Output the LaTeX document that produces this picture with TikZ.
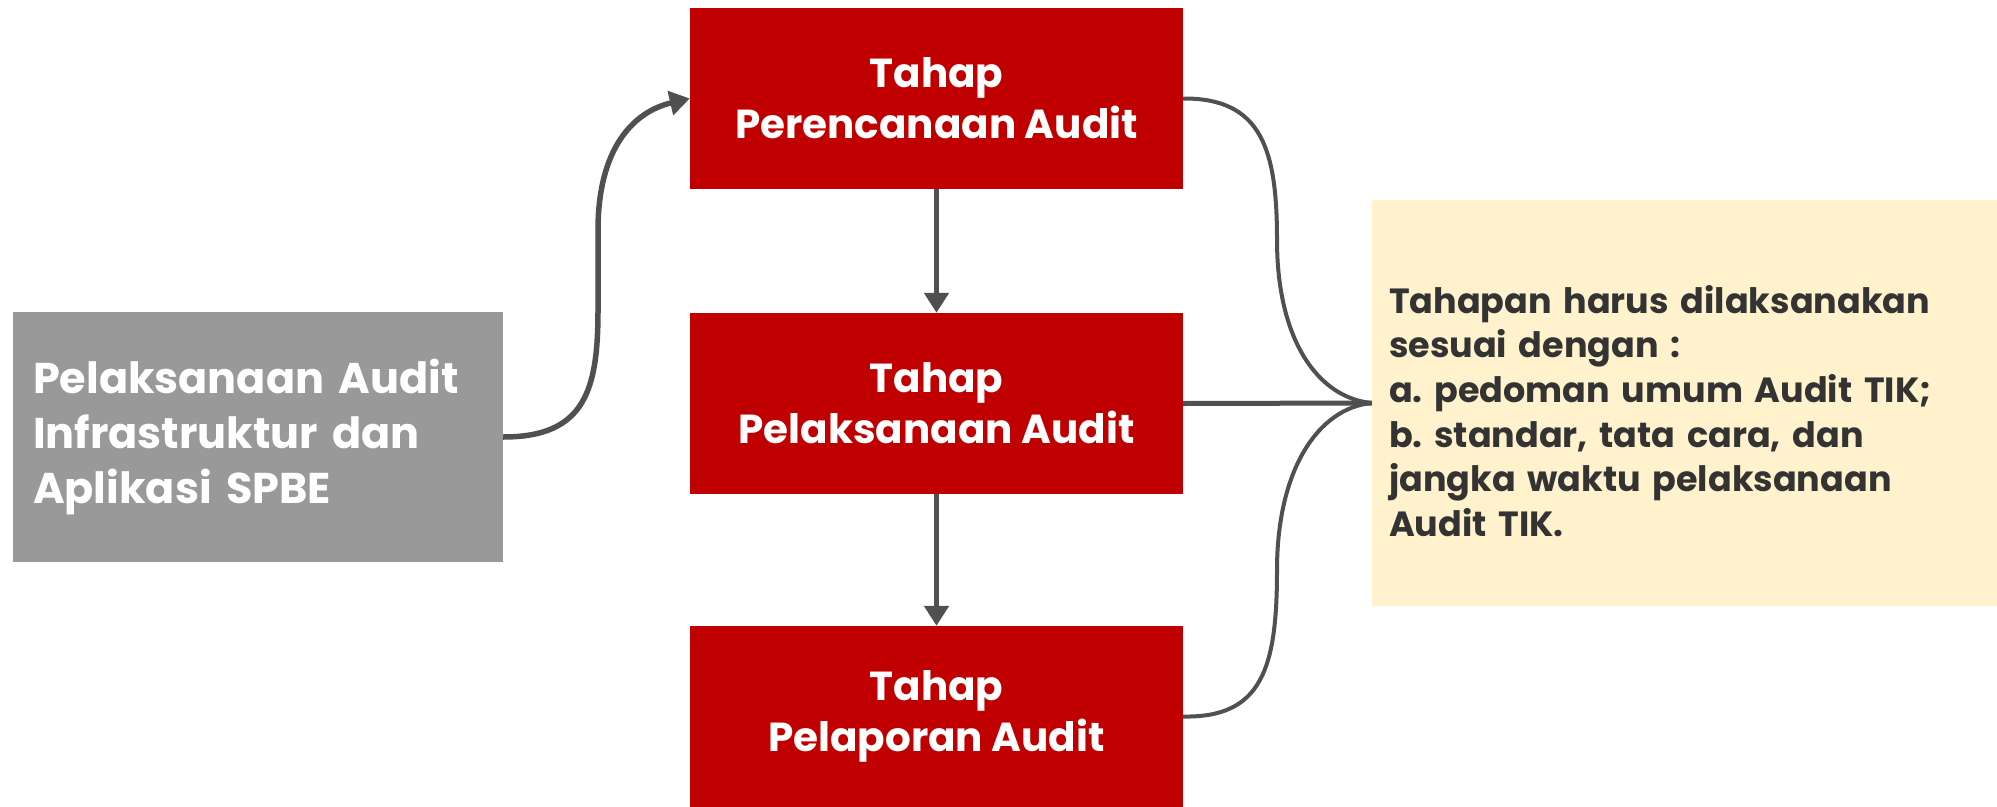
\documentclass[tikz,border=0pt]{standalone}
\usepackage{fontspec}
\setmainfont{Poppins}
\usetikzlibrary{arrows.meta}
\definecolor{boxred}{HTML}{C00000}
\definecolor{boxgray}{HTML}{999999}
\definecolor{noteyellow}{HTML}{FFF2CC}
\definecolor{conncol}{HTML}{505050}
\definecolor{notetext}{HTML}{333333}
\begin{document}
\frenchspacing
\begin{tikzpicture}[x=1pt,y=-1pt,
  redbox/.style={fill=boxred, text=white, minimum width=493pt, minimum height=181pt, align=center, inner sep=0pt,
     font=\fontsize{40.5}{51}\selectfont\bfseries},
  graybox/.style={fill=boxgray, text=white, minimum height=250pt, text width=450pt, inner xsep=20pt, inner ysep=0pt, align=left,
     font=\fontsize{43}{55}\selectfont\bfseries},
  notebox/.style={fill=noteyellow, minimum width=625pt, minimum height=406pt, inner sep=0pt},
  notetxt/.style={text=notetext, text width=591pt, inner sep=0pt, align=left,
     font=\fontsize{35}{44.6}\selectfont\bfseries},
  arr/.style={draw=conncol, line width=5.5pt, -{Triangle[width=24pt,length=20pt]}},
  brace/.style={draw=conncol, line width=4pt}]
\useasboundingbox (0,0) rectangle (1997,806);
\fill[white] (0,0) rectangle (1997,806);
\node[redbox] (r1) at (936.5,98.5) {Tahap\\Perencanaan Audit};
\node[redbox] (r2) at (936.5,403.5) {Tahap\\Pelaksanaan Audit};
\node[redbox] (r3) at (936.5,716.5) {Tahap\\Pelaporan Audit};
\node[graybox] (g) at (258,437) {Pelaksanaan Audit\\Infrastruktur dan\\Aplikasi SPBE};
\node[notebox] (n) at (1684.5,403) {};
\node[notetxt] (nt) at (1684.5,411) {Tahapan harus dilaksanakan\\sesuai dengan :\\a. pedoman umum Audit TIK;\\b. standar, tata cara, dan\\jangka waktu pelaksanaan\\Audit TIK.};
\draw[arr] (g.east) .. controls (585,437) and (598,390) .. (598,310) -- (598,230) .. controls (598,150) and (632,112) .. (r1.west);
\draw[arr] (r1.south) -- (r2.north);
\draw[arr] (r2.south) -- (r3.north);
\draw[brace] (r1.east) .. controls (1262,98) and (1277,150) .. (1277,240) .. controls (1277,340) and (1318,398) .. (n.west);
\draw[brace] (r3.east) .. controls (1262,718) and (1277,668) .. (1277,570) .. controls (1277,470) and (1318,408) .. (n.west);
\draw[brace, line width=5pt] (r2.east) -- (n.west);
\end{tikzpicture}
\end{document}
